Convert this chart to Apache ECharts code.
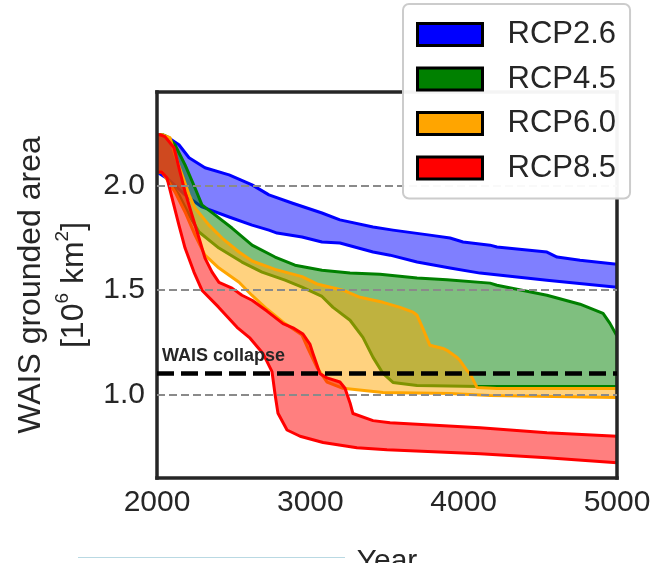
<!DOCTYPE html>
<html><head><meta charset="utf-8">
<script src="https://cdn.jsdelivr.net/npm/echarts@6/dist/echarts.min.js"></script>
<style>html,body{margin:0;padding:0;background:#fff}#c{width:656px;height:563px}</style>
</head><body><div id="c"></div>
<script>
const FONT = "'Liberation Sans', Arial, sans-serif";
const TEXT = '#262626';

// ---- axes / reference levels ----
const xTicks = [2000, 3000, 4000, 5000];
const yTicks = [1.0, 1.5, 2.0];
const gridLevels = [1.0, 1.5, 2.0];
const collapseLevel = 1.1;
const collapseLabel = 'WAIS collapse';

// ---- scenarios ----
const scenarioNames = ['RCP2.6', 'RCP4.5', 'RCP6.0', 'RCP8.5'];
const scenarioColors = ['#0000ff', '#008000', '#ffa500', '#ff0000'];

// RCP2.6
const rcp26HiYears = [2000, 2020, 2065, 2143, 2209, 2313, 2470, 2620, 2730, 2880, 3076, 3193, 3409, 3539, 3780, 3911, 3996, 4172, 4217, 4543, 4609, 4759, 5000];
const rcp26HiVals  = [2.245, 2.245, 2.236, 2.197, 2.135, 2.087, 2.053, 2.005, 1.957, 1.918, 1.870, 1.837, 1.803, 1.788, 1.764, 1.750, 1.731, 1.716, 1.707, 1.683, 1.659, 1.644, 1.625];
const rcp26LoYears = [2000, 2078, 2183, 2293, 2470, 2620, 2730, 2783, 2946, 3076, 3193, 3409, 3520, 3696, 3911, 4107, 4543, 5000];
const rcp26LoVals  = [2.067, 2.029, 1.957, 1.899, 1.851, 1.812, 1.788, 1.774, 1.755, 1.731, 1.726, 1.683, 1.668, 1.635, 1.606, 1.582, 1.548, 1.514];

// RCP4.5
const rcp45HiYears = [2000, 2040, 2065, 2117, 2183, 2248, 2293, 2378, 2489, 2620, 2770, 2900, 3076, 3259, 3454, 3696, 3891, 4172, 4217, 4543, 4759, 4909, 4954, 5000];
const rcp45HiVals  = [2.245, 2.245, 2.236, 2.197, 2.101, 1.990, 1.909, 1.861, 1.798, 1.716, 1.659, 1.620, 1.596, 1.582, 1.577, 1.558, 1.550, 1.534, 1.524, 1.476, 1.433, 1.389, 1.341, 1.28];
const rcp45LoYears = [2000, 2033, 2143, 2209, 2274, 2404, 2554, 2685, 2835, 2946, 3076, 3148, 3259, 3343, 3409, 3474, 3539, 3696, 4107, 5000];
const rcp45LoVals  = [2.067, 2.067, 1.957, 1.861, 1.779, 1.702, 1.635, 1.587, 1.548, 1.515, 1.47, 1.418, 1.356, 1.274, 1.178, 1.101, 1.058, 1.043, 1.038, 1.038];

// RCP6.0
const rcp60HiYears = [2000, 2033, 2085, 2117, 2163, 2209, 2248, 2339, 2424, 2535, 2620, 2770, 2946, 3043, 3213, 3324, 3474, 3585, 3670, 3696, 3735, 3780, 3865, 3891, 3957, 3976, 4022, 4041, 4087, 4217, 5000];
const rcp60HiVals  = [2.245, 2.245, 2.231, 2.149, 2.053, 1.957, 1.894, 1.812, 1.750, 1.683, 1.640, 1.600, 1.565, 1.530, 1.500, 1.466, 1.442, 1.418, 1.395, 1.380, 1.315, 1.236, 1.221, 1.212, 1.178, 1.163, 1.115, 1.101, 1.034, 1.029, 1.029];
const rcp60LoYears = [2000, 2033, 2117, 2183, 2248, 2313, 2404, 2535, 2620, 2717, 2835, 2946, 2985, 3043, 3109, 3213, 3474, 3911, 4172, 5000];
const rcp60LoVals  = [2.067, 2.067, 1.971, 1.875, 1.764, 1.668, 1.606, 1.538, 1.475, 1.41, 1.34, 1.285, 1.22, 1.13, 1.06, 1.03, 1.01, 1.005, 0.995, 0.986];

// RCP8.5
const rcp85HiYears = [2000, 2020, 2052, 2111, 2143, 2183, 2228, 2274, 2313, 2359, 2404, 2489, 2554, 2620, 2717, 2822, 2887, 2952, 2998, 3017, 3063, 3109, 3193, 3226, 3259, 3278, 3409, 3520, 4107, 4543, 5000];
const rcp85HiVals  = [2.245, 2.245, 2.236, 2.183, 2.087, 1.971, 1.861, 1.750, 1.654, 1.587, 1.538, 1.510, 1.476, 1.452, 1.40, 1.34, 1.32, 1.29, 1.24, 1.197, 1.10, 1.08, 1.06, 1.03, 0.96, 0.909, 0.875, 0.865, 0.841, 0.817, 0.80];
const rcp85LoYears = [2000, 2030, 2065, 2098, 2143, 2183, 2241, 2293, 2400, 2522, 2607, 2691, 2750, 2770, 2789, 2848, 2933, 3083, 3304, 3500, 4107, 4543, 5000];
const rcp85LoVals  = [2.067, 2.067, 2.038, 1.942, 1.812, 1.702, 1.587, 1.50, 1.42, 1.322, 1.27, 1.197, 1.11, 1.00, 0.91, 0.83, 0.80, 0.77, 0.745, 0.735, 0.716, 0.697, 0.673];

const zip = (xs, vs) => xs.map((x, i) => [x, vs[i]]);
const bands = [
  { hi: zip(rcp26HiYears, rcp26HiVals), lo: zip(rcp26LoYears, rcp26LoVals) },
  { hi: zip(rcp45HiYears, rcp45HiVals), lo: zip(rcp45LoYears, rcp45LoVals) },
  { hi: zip(rcp60HiYears, rcp60HiVals), lo: zip(rcp60LoYears, rcp60LoVals) },
  { hi: zip(rcp85HiYears, rcp85HiVals), lo: zip(rcp85LoYears, rcp85LoVals) }
];

function hexA(hex, a) {
  const n = parseInt(hex.slice(1), 16);
  return 'rgba(' + ((n >> 16) & 255) + ',' + ((n >> 8) & 255) + ',' + (n & 255) + ',' + a + ')';
}

const bandSeries = bands.map((b, i) => ({
  type: 'custom',
  name: scenarioNames[i],
  coordinateSystem: 'cartesian2d',
  z: 2,
  silent: true,
  clip: true,
  itemStyle: { color: scenarioColors[i] },
  data: [[b.hi[0][0], b.hi[0][1]]],
  renderItem: function (params, api) {
    const pts = b.hi.map(p => api.coord(p)).concat(b.lo.slice().reverse().map(p => api.coord(p)));
    return {
      type: 'polygon',
      shape: { points: pts },
      style: { fill: hexA(scenarioColors[i], 0.5), stroke: scenarioColors[i], lineWidth: 3, lineJoin: 'round' }
    };
  }
}));

const frameLine = { show: true, onZero: false, lineStyle: { color: TEXT, width: 3.5, cap: 'square' } };

const chart = echarts.init(document.getElementById('c'), null, { renderer: 'canvas' });
chart.setOption({
  animation: false,
  backgroundColor: '#ffffff',
  grid: { left: 157, right: 39, top: 92, bottom: 85, containLabel: false, outerBoundsMode: 'none' },
  xAxis: [{
    type: 'value', min: xTicks[0], max: xTicks[xTicks.length - 1], interval: 1000, position: 'bottom', z: 3,
    axisLine: frameLine, axisTick: { show: false }, splitLine: { show: false },
    axisLabel: { fontSize: 30, color: TEXT, margin: 10, fontFamily: FONT, showMinLabel: true, showMaxLabel: true, formatter: v => String(v) },
    name: 'Year', nameLocation: 'middle', nameGap: 69,
    nameTextStyle: { fontSize: 30, color: TEXT, fontFamily: FONT }
  }, {
    type: 'value', min: xTicks[0], max: xTicks[xTicks.length - 1], position: 'top', z: 3,
    axisLine: frameLine, axisTick: { show: false }, splitLine: { show: false }, axisLabel: { show: false }
  }],
  yAxis: [{
    type: 'value', min: 0.6, max: 2.45, position: 'left', z: 3,
    axisLine: frameLine, axisTick: { show: false }, splitLine: { show: false },
    axisLabel: { customValues: yTicks, formatter: v => v.toFixed(1), fontSize: 30, color: TEXT, margin: 12, fontFamily: FONT },
    name: '{t|WAIS grounded area}\n{t|[10}{s|6}{t| km}{s|2}{t|]}',
    nameLocation: 'middle', nameRotate: 90, nameGap: 61,
    nameTextStyle: {
      color: TEXT, fontFamily: FONT, align: 'center',
      rich: {
        t: { fontSize: 32, lineHeight: 43, color: TEXT, fontFamily: FONT },
        s: { fontSize: 19, lineHeight: 24, verticalAlign: 'top', color: TEXT, fontFamily: FONT }
      }
    }
  }, {
    type: 'value', min: 0.6, max: 2.45, position: 'right', z: 3,
    axisLine: frameLine, axisTick: { show: false }, splitLine: { show: false }, axisLabel: { show: false }
  }],
  legend: {
    orient: 'vertical', left: 403, top: 4, z: 10,
    padding: [15, 14, 15, 13], itemWidth: 65, itemHeight: 22, itemGap: 13.5,
    backgroundColor: 'rgba(255,255,255,0.95)', borderColor: '#cccccc', borderWidth: 2, borderRadius: 6,
    selectedMode: false,
    textStyle: { fontSize: 31, lineHeight: 30, color: TEXT, fontFamily: FONT, padding: [0, 0, 0, 20] },
    data: scenarioNames.map((n, i) => ({
      name: n, icon: 'rect',
      itemStyle: { color: scenarioColors[i], borderColor: '#000000', borderWidth: 3 }
    }))
  },
  series: [{
    type: 'line', name: 'grid', z: 1, silent: true, symbol: 'none',
    lineStyle: { opacity: 0 }, data: [[xTicks[0], gridLevels[0]]],
    markLine: {
      silent: true, symbol: 'none', label: { show: false },
      lineStyle: { color: '#8a8a8a', width: 2, type: [8, 4] },
      data: gridLevels.map(v => ({ yAxis: v }))
    }
  }].concat(bandSeries).concat([{
    type: 'line', name: 'collapse', z: 5, silent: true, symbol: 'none',
    lineStyle: { opacity: 0 }, data: [[xTicks[0], collapseLevel]],
    markLine: {
      silent: true, symbol: 'none',
      lineStyle: { color: '#000000', width: 4.5, type: [17, 7] },
      label: {
        show: true, position: 'insideStartTop', formatter: collapseLabel, distance: [5, 9],
        fontSize: 18, fontWeight: 'bold', color: TEXT, fontFamily: FONT
      },
      data: [{ yAxis: collapseLevel }]
    }
  }]),
  graphic: [{
    type: 'line', silent: true, z: 100,
    shape: { x1: 78, y1: 557.5, x2: 345, y2: 557.5 },
    style: { stroke: '#b9d9e3', lineWidth: 1 }
  }]
});
</script></body></html>
